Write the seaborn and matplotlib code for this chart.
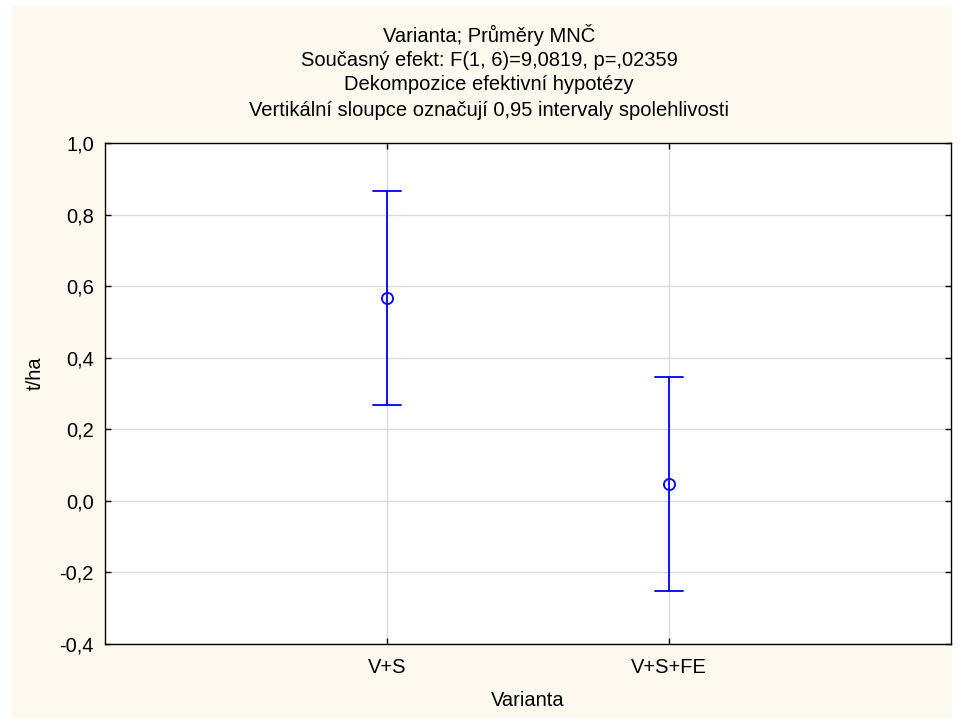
import numpy as np
import pandas as pd
import matplotlib
matplotlib.use("Agg")
import matplotlib.pyplot as plt
import seaborn as sns

# Least-squares means with 95 % confidence limits
categories = ["V+S", "V+S+FE"]
means = [0.567, 0.046]
lower = [0.268, -0.253]
upper = [0.866, 0.345]

title_lines = [
    "Varianta; Průměry MNČ",
    "Současný efekt: F(1, 6)=9,0819, p=,02359",
    "Dekompozice efektivní hypotézy",
    "Vertikální sloupce označují 0,95 intervaly spolehlivosti",
]
yticks = [-0.4, -0.2, 0.0, 0.2, 0.4, 0.6, 0.8, 1.0]

# Long table: lower limit, mean and upper limit per group, so that the median
# is the mean and the 100 % percentile interval spans the confidence limits.
rows = []
for c, lo, m, up in zip(categories, lower, means, upper):
    for v in (lo, m, up):
        rows.append({"Varianta": c, "t/ha": v})
df = pd.DataFrame(rows)

sns.set_theme(style="white")
plt.rcParams["font.family"] = ["Liberation Sans", "DejaVu Sans"]

FS = 14.5
W, H = 962, 718
fig = plt.figure(figsize=(W / 100, H / 100), dpi=100, facecolor="white")
# cream panel behind the chart
fig.patches.append(plt.Rectangle((12 / W, 0), (952 - 12) / W, 1 - 7 / H,
                                 transform=fig.transFigure, facecolor="#fdf9ef",
                                 edgecolor="none", zorder=-10))

ax = fig.add_axes([105 / W, 1 - 644 / H, (951 - 105) / W, (644 - 143) / H])
ax.set_facecolor("white")

blue = "#0000ff"
sns.pointplot(data=df, x="Varianta", y="t/ha", estimator=np.median,
              errorbar=("pi", 100), color=blue, linestyle="none",
              markers="o", markersize=8, markerfacecolor="none",
              markeredgewidth=1.3, capsize=0.1, err_kws={"linewidth": 1.3},
              ax=ax)

ax.set_xlim(-1, 2)
ax.set_ylim(-0.4, 1.0)
ax.set_yticks(yticks)
ax.set_yticklabels([f"{t:.1f}".replace(".", ",") for t in yticks])
ax.set_xticks(range(len(categories)))
ax.set_xticklabels(categories)

ax.grid(True, color="#dcdcdc", linewidth=1.0)
ax.set_axisbelow(True)
for s in ax.spines.values():
    s.set_visible(True)
    s.set_color("black")
    s.set_linewidth(1.0)
ax.tick_params(axis="both", direction="in", length=4, width=1, color="black",
               labelsize=FS, labelcolor="black", top=True, right=True,
               left=True, bottom=True)
ax.tick_params(axis="y", pad=8)
ax.tick_params(axis="x", pad=10)

ax.set_xlabel("")
ax.set_ylabel("")
fig.text(528 / W, 1 - 701 / H, "Varianta", ha="center", va="center",
         fontsize=FS, color="black")
fig.text(35 / W, 1 - 373 / H, "t/ha", ha="center", va="center",
         rotation=90, fontsize=FS, color="black")

for i, line in enumerate(title_lines):
    fig.text(489 / W, 1 - (35 + 25 * i) / H, line, ha="center", va="center",
             fontsize=FS, color="black")

fig.savefig("out.png", dpi=100, facecolor=fig.get_facecolor())
